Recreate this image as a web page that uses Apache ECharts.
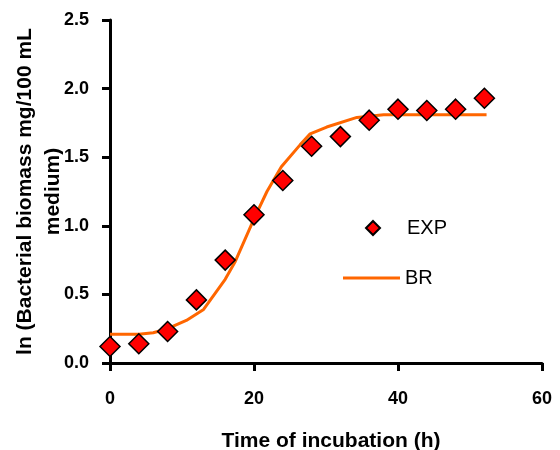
<!DOCTYPE html>
<html>
<head>
<meta charset="utf-8">
<script src="https://cdn.jsdelivr.net/npm/echarts@6/dist/echarts.min.js"></script>
<style>html,body{margin:0;padding:0;background:#fff;}#c{width:560px;height:450px;}</style>
</head>
<body>
<div id="c"></div>
<script>
// Experimental data (EXP)
var expTime = [0, 4, 8, 12, 16, 20, 24, 28, 32, 36, 40, 44, 48, 52];
var expValues = [0.12, 0.14, 0.23, 0.46, 0.75, 1.08, 1.33, 1.58, 1.65, 1.77, 1.85, 1.84, 1.85, 1.93];
// Model curve (BR)
var brTime = [0, 4, 6, 8, 10.6, 13, 16, 17.4, 20, 21.8, 23.8, 26.4, 27.8, 30.1, 34.3, 38, 52.3];
var brValues = [0.21, 0.21, 0.22, 0.25, 0.31, 0.39, 0.61, 0.74, 1.05, 1.25, 1.43, 1.59, 1.67, 1.72, 1.79, 1.81, 1.81];
var xTicks = [0, 20, 40, 60];
var yTicks = [0.0, 0.5, 1.0, 1.5, 2.0, 2.5];

var FONT = 'Arial, "Liberation Sans", sans-serif';
var chart = echarts.init(document.getElementById('c'), null, {renderer: 'canvas'});
var expData = expTime.map(function (t, i) { return [t, expValues[i]]; });
var brData = brTime.map(function (t, i) { return [t, brValues[i]]; });

chart.setOption({
  animation: false,
  backgroundColor: '#ffffff',
  grid: {left: 110, right: 18, top: 20, bottom: 87, containLabel: false, outerBoundsMode: 'none'},
  xAxis: {
    type: 'value', min: xTicks[0], max: xTicks[xTicks.length - 1], interval: 20,
    name: 'Time of incubation (h)', nameLocation: 'middle', nameGap: 68,
    nameTextStyle: {fontFamily: FONT, fontWeight: 'bold', fontSize: 21, color: '#000', padding: [0, 0, 0, 10]},
    axisLine: {lineStyle: {color: '#000', width: 3}},
    axisTick: {show: true, length: 8, lineStyle: {color: '#000', width: 3}},
    axisLabel: {margin: 27, fontFamily: FONT, fontWeight: 'bold', fontSize: 18, color: '#000'},
    splitLine: {show: false}
  },
  yAxis: {
    type: 'value', min: yTicks[0], max: yTicks[yTicks.length - 1], interval: 0.5,
    name: 'ln (Bacterial biomass mg/100 mL\nmedium)', nameLocation: 'middle', nameGap: 43, nameRotate: 90,
    nameMoveOverlap: false,
    nameTextStyle: {fontFamily: FONT, fontWeight: 'bold', fontSize: 21, color: '#000', lineHeight: 28},
    axisLine: {show: true, lineStyle: {color: '#000', width: 3}},
    axisTick: {show: true, length: 8, lineStyle: {color: '#000', width: 3}},
    axisLabel: {margin: 21, fontFamily: FONT, fontWeight: 'bold', fontSize: 18, color: '#000',
      formatter: function (v) { return v.toFixed(1); }},
    splitLine: {show: false}
  },
  legend: [
    {data: [{name: 'EXP', icon: 'diamond'}], left: 360, top: 213, itemWidth: 14, itemHeight: 14, orient: 'vertical',
     textStyle: {fontFamily: FONT, fontSize: 20, color: '#000', padding: [0, 0, 0, 22]}},
    {data: [{name: 'BR', icon: 'rect'}], left: 338, top: 263, itemWidth: 57, itemHeight: 3, orient: 'vertical',
     itemStyle: {color: '#FF6600', borderWidth: 0},
     textStyle: {fontFamily: FONT, fontSize: 20, color: '#000'}}
  ],
  series: [
    {
      name: 'BR', type: 'line', data: brData, symbol: 'none', smooth: false,
      lineStyle: {color: '#FF6600', width: 3}, itemStyle: {color: '#FF6600'}, z: 2
    },
    {
      name: 'EXP', type: 'scatter', data: expData, symbol: 'diamond', symbolSize: 20,
      itemStyle: {color: '#FF0000', borderColor: '#000', borderWidth: 1.5, opacity: 1}, z: 3
    }
  ]
});
</script>
</body>
</html>
